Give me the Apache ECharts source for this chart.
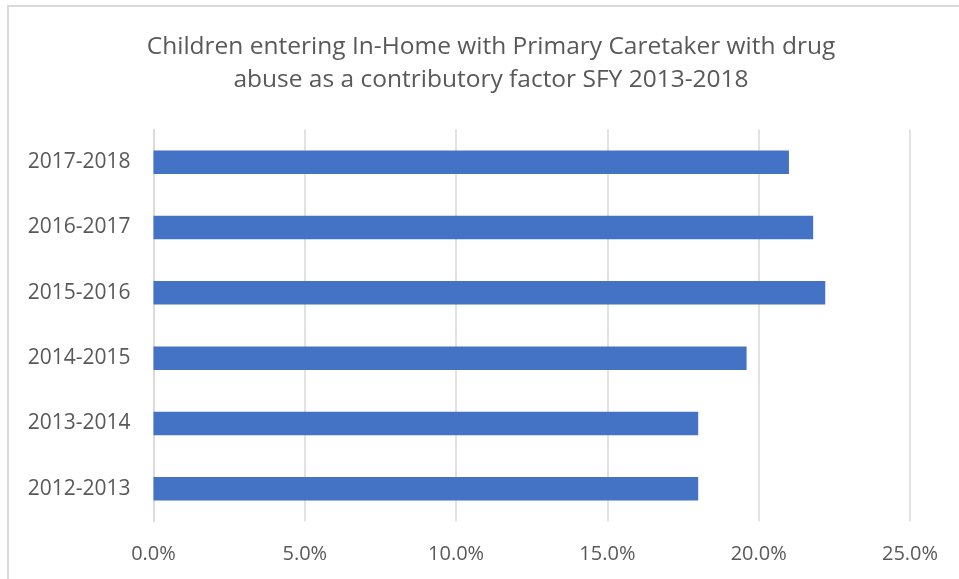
<!DOCTYPE html>
<html>
<head>
<meta charset="utf-8">
<script src="https://cdn.jsdelivr.net/npm/echarts@6/dist/echarts.min.js"></script>
<style>
  html, body { margin: 0; padding: 0; background: #ffffff; }
  #chart { width: 959px; height: 579px; }
</style>
</head>
<body>
<div id="chart"></div>
<script>
// State fiscal years, listed bottom to top
const years = ['2012-2013', '2013-2014', '2014-2015', '2015-2016', '2016-2017', '2017-2018'];
// Share of children entering In-Home services (percent)
const shares = [18.0, 18.0, 19.6, 22.2, 21.8, 21.0];
const titleLines = [
  'Children entering In-Home with Primary Caretaker with drug',
  'abuse as a contributory factor SFY 2013-2018'
];

const FONT = '"Open Sans", "Noto Sans", sans-serif';
const chart = echarts.init(document.getElementById('chart'), null, { renderer: 'canvas' });

chart.setOption({
  backgroundColor: '#ffffff',
  animation: false,
  title: {
    text: titleLines.join('\n'),
    left: 486,
    top: 26,
    textAlign: 'center',
    textStyle: {
      fontFamily: FONT,
      fontSize: 24.5,
      fontWeight: 'normal',
      color: '#595959',
      lineHeight: 33
    }
  },
  graphic: [{
    type: 'rect',
    shape: { x: 8, y: 6, width: 1000, height: 700 },
    style: { fill: 'none', stroke: '#d9d9d9', lineWidth: 2 },
    silent: true,
    z: -1
  }],
  grid: {
    left: 153.5,
    right: 49,
    top: 129.5,
    bottom: 57.5,
    containLabel: false
  },
  xAxis: {
    type: 'value',
    min: 0,
    max: 25,
    interval: 5,
    axisLine: { show: false },
    axisTick: { show: false },
    splitLine: { show: true, lineStyle: { color: '#d9d9d9', width: 1.5 } },
    axisLabel: {
      fontFamily: FONT,
      fontSize: 20,
      color: '#595959',
      margin: 23,
      formatter: v => v.toFixed(1) + '%'
    }
  },
  yAxis: {
    type: 'category',
    data: years,
    axisLine: { show: true, lineStyle: { color: '#d9d9d9', width: 1.5 } },
    axisTick: { show: false },
    splitLine: { show: false },
    axisLabel: {
      fontFamily: FONT,
      fontSize: 21,
      color: '#595959',
      margin: 23
    }
  },
  series: [{
    type: 'bar',
    data: shares,
    barWidth: '36%',
    itemStyle: { color: '#4472c4' },
    z: 3
  }]
});
</script>
</body>
</html>
